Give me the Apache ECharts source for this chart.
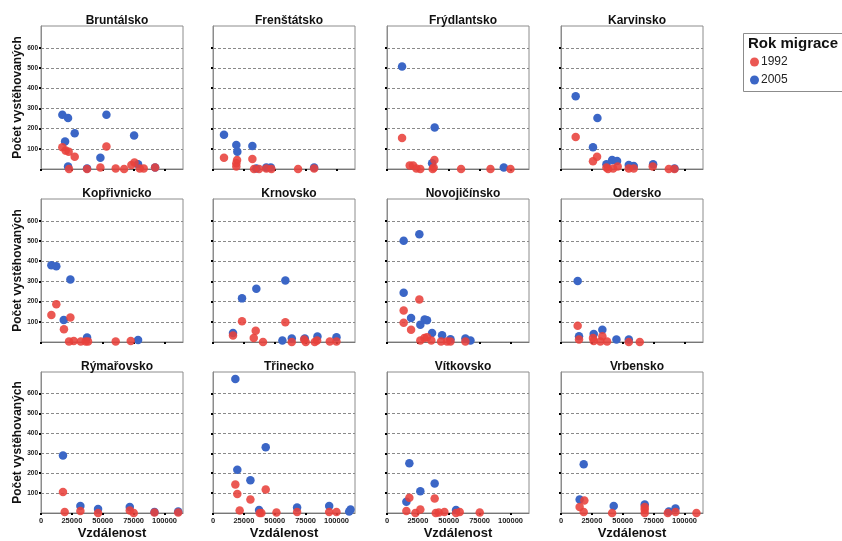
<!DOCTYPE html>
<html><head><meta charset="utf-8">
<script src="https://cdn.jsdelivr.net/npm/echarts@6/dist/echarts.min.js"></script>
<style>html,body{margin:0;padding:0;background:#fff}#c{width:842px;height:541px}</style>
</head><body><div id="c"></div>
<script>
const regions = ['Bruntálsko','Frenštátsko','Frýdlantsko','Karvinsko','Kopřivnicko','Krnovsko','Novojičínsko','Odersko','Rýmařovsko','Třinecko','Vítkovsko','Vrbensko'];
const years = ['1992','2005'];
const yTicks = [100,200,300,400,500,600];
const xTicks = [0,25000,50000,75000,100000];

const bruntalsko2005 = [[17300,269],[21900,252],[27300,177],[19500,136],[53000,269],[75400,166],[48100,56],[21900,12],[37300,3],[78600,23],[92400,8]];
const bruntalsko1992 = [[17300,108],[20000,91],[22400,86],[27300,61],[53000,111],[22700,0],[37300,0],[48100,7],[60500,3],[67300,0],[73200,20],[75700,32],[80000,3],[83200,3],[92400,7]];
const frenstatsko2005 = [[8900,169],[18900,119],[19700,86],[31900,114],[35100,3],[43200,8],[46800,8],[81900,7]];
const frenstatsko1992 = [[8900,56],[19500,45],[18900,28],[18900,12],[31900,50],[33200,0],[37300,0],[43200,3],[47300,0],[68900,0],[81900,3]];
const frydlantsko2005 = [[12200,508],[38600,206],[36500,28],[94600,8]];
const frydlantsko1992 = [[12200,153],[18400,17],[21100,17],[23800,3],[27000,0],[38400,45],[37800,7],[37000,0],[60000,0],[83800,0],[100000,0]];
const karvinsko2005 = [[11900,360],[29500,252],[25900,108],[36800,23],[41400,45],[45400,40],[54900,20],[58900,15],[74600,23],[91900,3]];
const karvinsko1992 = [[11900,158],[25900,38],[29200,61],[36800,7],[38100,0],[42200,3],[45900,12],[54900,3],[58900,3],[74300,12],[87300,0],[91900,0]];
const koprivnicko2005 = [[8400,380],[12400,375],[23800,309],[18400,109],[37300,22],[78600,10]];
const koprivnicko1992 = [[8400,134],[12400,187],[23800,121],[18600,63],[22700,2],[26500,5],[32200,2],[36200,2],[38100,2],[60500,2],[72700,5]];
const krnovsko2005 = [[16200,45],[23500,216],[35100,264],[58600,305],[56200,7],[63800,17],[74300,17],[84600,27],[100000,23]];
const krnovsko1992 = [[16200,32],[23500,103],[34600,56],[33000,20],[40500,0],[58600,98],[63800,0],[73800,12],[75100,0],[82400,0],[84300,7],[94600,3],[100000,3]];
const novojicinsko2005 = [[13500,501],[26200,534],[13500,244],[19500,119],[27000,86],[30500,111],[32400,108],[36500,45],[44600,33],[51400,13],[63500,17],[67600,8]];
const novojicinsko1992 = [[13500,156],[13500,95],[19500,61],[26200,211],[27000,8],[30300,20],[32400,23],[35900,8],[43800,3],[48600,3],[51400,3],[63500,3]];
const odersko2005 = [[13500,302],[14600,28],[26500,40],[33500,61],[44900,12],[54900,12]];
const odersko1992 = [[13500,81],[14600,12],[25900,20],[33500,28],[31900,3],[37300,3],[54900,0],[63800,0],[26500,5]];
const rymarovsko2005 = [[17800,289],[31900,35],[46200,20],[71900,30],[91900,5],[111100,7]];
const rymarovsko1992 = [[17800,106],[19200,5],[31900,10],[46200,0],[71900,13],[75100,0],[91900,3],[111100,3]];
const trinecko2005 = [[18100,673],[42700,330],[19700,217],[30300,164],[37300,15],[68100,27],[94100,35],[111400,18],[110300,7]];
const trinecko1992 = [[18100,143],[19700,96],[30300,68],[42700,118],[21600,13],[37800,0],[39200,0],[51400,3],[68100,5],[94100,5],[100000,5]];
const vitkovsko2005 = [[18100,250],[38600,148],[27000,109],[15700,56],[55900,15]];
const vitkovsko1992 = [[18100,76],[38600,73],[15700,10],[23000,0],[27000,18],[39500,0],[41900,3],[46500,5],[55900,0],[58900,5],[75100,3]];
const vrbensko2005 = [[18400,245],[15100,68],[42700,35],[67800,43],[92700,22],[87300,7]];
const vrbensko1992 = [[15100,30],[18900,63],[18400,5],[41400,0],[67800,18],[67800,0],[86500,0],[92700,5],[109700,0],[67800,30]];

const data1992 = [bruntalsko1992,frenstatsko1992,frydlantsko1992,karvinsko1992,koprivnicko1992,krnovsko1992,novojicinsko1992,odersko1992,rymarovsko1992,trinecko1992,vitkovsko1992,vrbensko1992];
const data2005 = [bruntalsko2005,frenstatsko2005,frydlantsko2005,karvinsko2005,koprivnicko2005,krnovsko2005,novojicinsko2005,odersko2005,rymarovsko2005,trinecko2005,vitkovsko2005,vrbensko2005];

const FONT = '"Liberation Sans", Arial, sans-serif';
const RED = '#e8413b', BLUE = '#3b66c6';
const colLeft = [41, 213, 387, 561];
const rowTop = [26, 199, 372];
const W = 142, H = 143;

const grids = [], xAxes = [], yAxes = [], series = [], titles = [];
regions.forEach((name, i) => {
  const r = Math.floor(i / 4), c = i % 4;
  grids.push({left: colLeft[c], top: rowTop[r], width: W, height: H, show: true,
    borderColor: '#8c8c8c', borderWidth: 1, backgroundColor: 'transparent'});
  titles.push({text: name, left: colLeft[c] + W / 2, top: rowTop[r] - 16, textAlign: 'center',
    textStyle: {fontFamily: FONT, fontSize: 12, fontWeight: 'bold', color: '#111'}});
  xAxes.push({type: 'value', gridIndex: i, min: 0, max: 115000,
    axisLine: {show: true, onZero: false, lineStyle: {color: '#777'}},
    axisTick: {show: true, customValues: xTicks, length: 2, lineStyle: {color: '#000', width: 2}},
    axisLabel: {show: r === 2, customValues: xTicks, margin: 4, fontSize: 7.5, fontWeight: 'bold',
      fontFamily: FONT, color: '#222', formatter: v => String(v)},
    splitLine: {show: false},
    name: r === 2 ? 'Vzdálenost' : '', nameLocation: 'middle', nameGap: 14,
    nameTextStyle: {fontFamily: FONT, fontSize: 13, fontWeight: 'bold', color: '#111'}});
  yAxes.push({type: 'value', gridIndex: i, min: 0, max: 708,
    axisLine: {show: true, lineStyle: {color: '#8c8c8c'}},
    axisTick: {show: true, customValues: yTicks, length: 2, lineStyle: {color: '#000', width: 2}},
    axisLabel: {show: c === 0, customValues: yTicks, margin: 3, fontSize: 6.5, fontWeight: 'bold',
      fontFamily: FONT, color: '#222'},
    splitLine: {show: false},
    name: c === 0 ? 'Počet vystěhovaných' : '', nameLocation: 'middle', nameGap: 17, nameRotate: 90,
    nameTextStyle: {fontFamily: FONT, fontSize: 12, fontWeight: 'bold', color: '#111'}});
  series.push({name: '2005', type: 'scatter', xAxisIndex: i, yAxisIndex: i, data: data2005[i],
    symbol: 'circle', symbolSize: 8.5, itemStyle: {color: BLUE, opacity: 1}, z: 2,
    markLine: {silent: true, symbol: 'none', z: 1, animation: false, label: {show: false},
      lineStyle: {type: [3, 2], color: '#8a8a8a', width: 1},
      data: yTicks.map(v => ({yAxis: v}))}});
  series.push({name: '1992', type: 'scatter', xAxisIndex: i, yAxisIndex: i, data: data1992[i],
    symbol: 'circle', symbolSize: 8.5, itemStyle: {color: RED, opacity: 0.88}, z: 3});
});

const chart = echarts.init(document.getElementById('c'), null, {renderer: 'canvas'});
chart.setOption({
  animation: false,
  backgroundColor: '#fff',
  title: titles,
  grid: grids, xAxis: xAxes, yAxis: yAxes, series: series,
  legend: {data: years, orient: 'vertical', left: 745, top: 51, icon: 'circle', itemWidth: 9, itemHeight: 9,
    itemGap: 6, selectedMode: false,
    textStyle: {fontFamily: FONT, fontSize: 12, color: '#222', padding: [0, 0, 0, -3]}},
  graphic: [
    {type: 'rect', left: 743, top: 33, z: -1, shape: {width: 120, height: 58},
      style: {fill: '#fff', stroke: '#8c8c8c', lineWidth: 1}},
    {type: 'text', left: 748, top: 36, style: {text: 'Rok migrace', font: 'bold 15px ' + FONT, fill: '#111'}}
  ]
});
</script></body></html>
